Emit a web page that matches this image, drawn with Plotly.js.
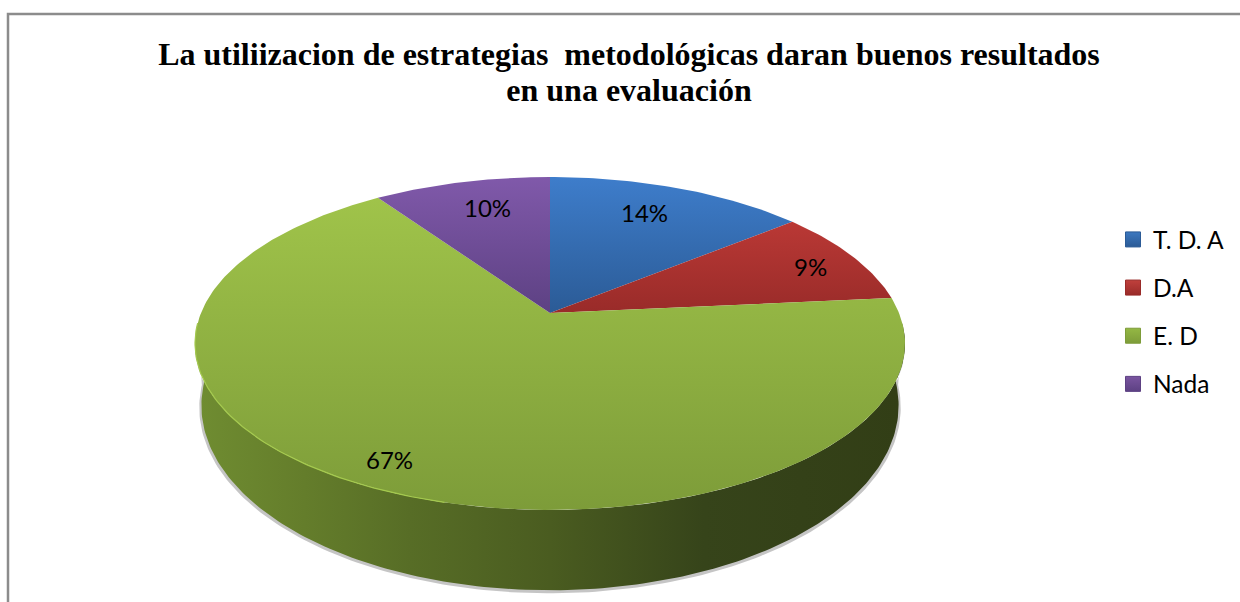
<!DOCTYPE html>
<html>
<head>
<meta charset="utf-8">
<script src="https://cdn.plot.ly/plotly-3.0.1.min.js"></script>
<style>
    html, body { margin: 0; padding: 0; background: #fff; }
</style>
</head>
<body>
<div id="graph" style="width:1240px;height:602px;"></div>
<script>
const categories = ['T. D. A', 'D.A', 'E. D', 'Nada'];
const values = [14.1, 9.4, 66.9, 9.6];
const topColors = ['#3e7dcb', '#ca3f3b', '#a2c64b', '#8059aa'];
const lowColors = ['#2b5b96', '#992b29', '#7d9c39', '#5d4183'];
const legendColors = ['#3c78c0', '#c0403c', '#94b844', '#7a55a0'];
const labelX = [644, 810, 389, 487];
const labelY = [212, 266, 459, 207];

// the pie is tilted with perspective: the hub sits above the middle of the rim
const hubX = 550, hubY = 313;
const radius = 349, tilt = 0.183, squash = -103.6;
const wallDrop = 62, wallShrink = 0.982, wallStretch = 1.11;

function rim(angle) {
    const u = Math.sin(angle), v = Math.cos(angle);
    const d = 1 + tilt * v;
    return [hubX + radius * u / d, (squash * v + hubY) / d];
}

function arc(from, to) {
    const xs = [], ys = [];
    const n = Math.max(2, Math.ceil(Math.abs(to - from) * 60));
    for (let i = 0; i <= n; i++) {
        const p = rim(from + (to - from) * i / n);
        xs.push(p[0]);
        ys.push(p[1]);
    }
    return { xs, ys };
}

// lower edge of the side wall, same rim pushed down
function lowerEdge(xs, ys, grow) {
    const midY = 343;
    return {
        xs: xs.map(x => hubX + (x - hubX) * (wallShrink + grow)),
        ys: ys.map(y => midY + wallDrop + (y - midY) * (wallStretch + grow))
    };
}

function frontWall(grow) {
    const front = arc(Math.PI * 0.52, Math.PI * 1.48);
    const low = lowerEdge(front.xs, front.ys, grow);
    return {
        x: front.xs.concat(low.xs.slice().reverse()),
        y: front.ys.concat(low.ys.slice().reverse()),
        front
    };
}

const traces = [];

const shadow = frontWall(0.006);
traces.push({
    x: shadow.x, y: shadow.y.map(y => y + 2), mode: 'lines', fill: 'toself',
    fillcolor: 'rgba(90,90,90,0.35)', line: { width: 0 }, hoverinfo: 'skip', showlegend: false
});

const wall = frontWall(0);
traces.push({
    x: wall.x, y: wall.y, mode: 'lines', fill: 'toself',
    line: { width: 0 }, hoverinfo: 'skip', showlegend: false,
    fillgradient: {
        type: 'horizontal', start: 200, stop: 900,
        colorscale: [[0, '#6f8c31'], [0.15, '#647d2b'], [0.3, '#576d26'], [0.5, '#4a5c20'], [0.72, '#36441a'], [1, '#323e16']]
    }
});

const total = values.reduce((a, b) => a + b, 0);
let start = 0;
values.forEach((val, i) => {
    const end = start + val / total * 2 * Math.PI;
    const edge = arc(start, end);
    const mostlyFront = val / total > 0.5;
    traces.push({
        x: [hubX].concat(edge.xs, [hubX]),
        y: [hubY].concat(edge.ys, [hubY]),
        mode: 'lines', fill: 'toself', name: categories[i],
        line: { width: 0 }, showlegend: false,
        hovertemplate: categories[i] + ': ' + Math.round(val) + '%<extra></extra>',
        fillgradient: {
            type: 'vertical', start: 177, stop: mostlyFront ? 510 : hubY,
            colorscale: [[0, topColors[i]], [1, lowColors[i]]]
        }
    });
    start = end;
});

// light edge where the top meets the wall on the left
const glow = arc(Math.PI * 1.08, Math.PI * 1.48);
traces.push({
    x: glow.xs, y: glow.ys, mode: 'lines',
    line: { color: '#a4c94e', width: 1.2 }, hoverinfo: 'skip', showlegend: false
});

categories.forEach((name, i) => {
    traces.push({
        x: [null], y: [null], mode: 'markers', name: name, legendgroup: name,
        marker: {
            symbol: 'square', size: 15, color: legendColors[i],
            gradient: { type: 'vertical', color: lowColors[i] },
            line: { color: lowColors[i], width: 1 }
        }
    });
});

const annotations = values.map((val, i) => ({
    x: labelX[i], y: labelY[i], text: Math.round(val) + '%', showarrow: false,
    font: { family: 'Lato, sans-serif', size: 24, color: '#000' }
}));

const layout = {
    width: 1240,
    height: 602,
    margin: { l: 0, r: 0, t: 0, b: 0 },
    paper_bgcolor: '#fff',
    plot_bgcolor: '#fff',
    title: {
        text: 'La utiliizacion de estrategias \u00a0metodológicas daran buenos resultados<br>en una evaluación',
        font: { family: '"Liberation Serif", serif', size: 32, color: '#000', weight: 'bold' },
        x: 629 / 1240, xanchor: 'center', y: 0.8917, yanchor: 'bottom'
    },
    xaxis: { range: [0, 1240], visible: false, fixedrange: true },
    yaxis: { range: [602, 0], visible: false, fixedrange: true },
    legend: {
        x: 1113 / 1240, xanchor: 'left', y: 1 - 217 / 602, yanchor: 'top',
        font: { family: 'Lato, sans-serif', size: 24.5, color: '#000' },
        tracegroupgap: 13.3, itemclick: false, itemdoubleclick: false
    },
    annotations: annotations,
    shapes: [{
        type: 'path', xref: 'x', yref: 'y', layer: 'below',
        path: 'M 8 602 L 8 14 L 1240 14',
        line: { color: '#8c8c8c', width: 2.5 }
    }]
};

Plotly.newPlot('graph', traces, layout, { displayModeBar: false }).then(() => {
    // plotly's line spacing is fixed at 1.3em, the title lines sit closer here
    const lines = document.querySelectorAll('.gtitle tspan.line');
    if (lines.length > 1) lines[1].setAttribute('dy', '36px');
});
</script>
</body>
</html>
